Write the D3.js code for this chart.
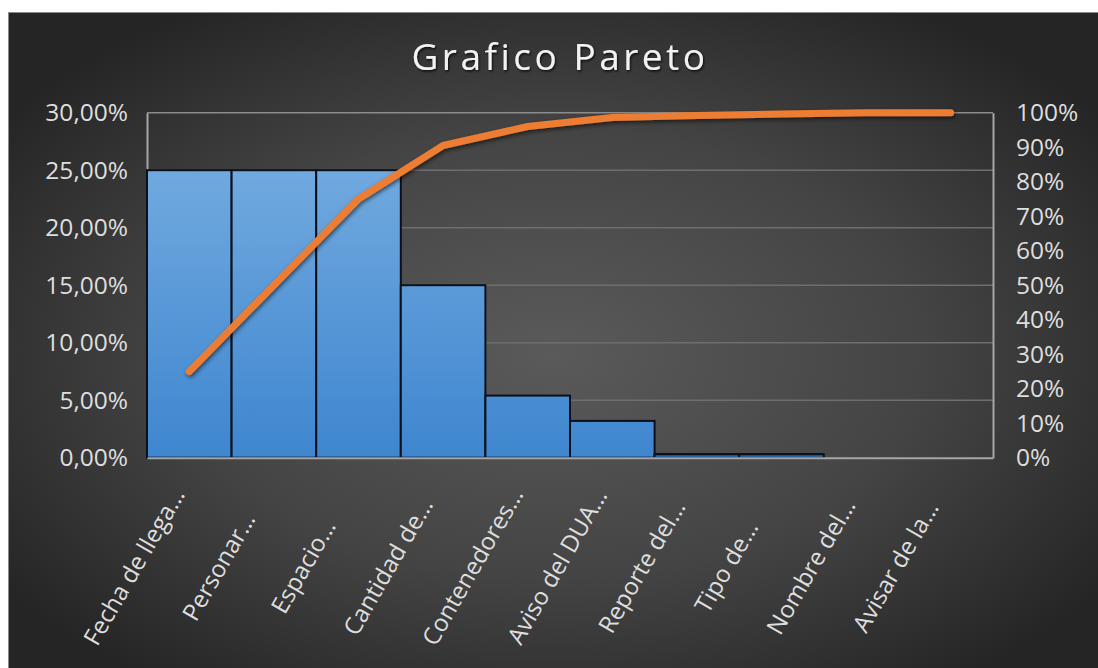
<!DOCTYPE html>
<html>
<head>
<meta charset="utf-8">
<script src="https://cdn.jsdelivr.net/npm/d3@7/dist/d3.min.js"></script>
<style>
  html, body { margin: 0; padding: 0; background: #ffffff; }
  svg { display: block; }
  text { font-family: "Open Sans", "Noto Sans", sans-serif; }
</style>
</head>
<body>
<svg id="chart" width="1098" height="668"></svg>
<script>
// ---- data ----
const categories = ["Fecha de llega…", "Personar…", "Espacio…", "Cantidad de…", "Contenedores…",
                    "Aviso del DUA…", "Reporte del…", "Tipo de…", "Nombre del…", "Avisar de la…"];
const percentValues = [25, 25, 25, 15, 5.4, 3.2, 0.3, 0.3, 0, 0];
const cumulativeValues = [25, 50, 75, 90.5, 96, 98.6, 99.2, 99.6, 100, 100];
const leftTicks = [0, 5, 10, 15, 20, 25, 30];
const rightTicks = [0, 10, 20, 30, 40, 50, 60, 70, 80, 90, 100];
const titleText = "Grafico Pareto";

// ---- layout ----
const W = 1098, H = 668;
const plot = { left: 147, right: 993, top: 112.7, bottom: 457.7 };

const svg = d3.select("#chart");
const defs = svg.append("defs");

const bg = defs.append("radialGradient").attr("id", "bgGrad")
  .attr("cx", "50%").attr("cy", "52%").attr("r", "62%");
bg.append("stop").attr("offset", "0%").attr("stop-color", "#5a5a5a");
bg.append("stop").attr("offset", "55%").attr("stop-color", "#444444");
bg.append("stop").attr("offset", "100%").attr("stop-color", "#252525");

const barGrad = defs.append("linearGradient").attr("id", "barGrad")
  .attr("gradientUnits", "userSpaceOnUse")
  .attr("x1", 0).attr("x2", 0).attr("y1", plot.top + 55).attr("y2", plot.bottom);
barGrad.append("stop").attr("offset", "0%").attr("stop-color", "#71a9df");
barGrad.append("stop").attr("offset", "100%").attr("stop-color", "#3e86cf");

const shadow = defs.append("filter").attr("id", "lineShadow")
  .attr("x", "-10%").attr("y", "-10%").attr("width", "120%").attr("height", "130%");
shadow.append("feDropShadow").attr("dx", 1).attr("dy", 2).attr("stdDeviation", 2)
  .attr("flood-color", "#000").attr("flood-opacity", 0.6);

const tshadow = defs.append("filter").attr("id", "textShadow")
  .attr("x", "-10%").attr("y", "-30%").attr("width", "120%").attr("height", "160%");
tshadow.append("feDropShadow").attr("dx", 1).attr("dy", 1.5).attr("stdDeviation", 1.2)
  .attr("flood-color", "#000").attr("flood-opacity", 0.8);

// background panel
svg.append("rect").attr("x", 8.5).attr("y", 12.5).attr("width", W - 8).attr("height", H - 12)
  .attr("fill", "url(#bgGrad)").attr("stroke", "#8a8a8a").attr("stroke-width", 1);

// ---- scales ----
const x = d3.scaleBand().domain(categories).range([plot.left, plot.right]).padding(0);
const yL = d3.scaleLinear().domain([0, 30]).range([plot.bottom, plot.top]);
const yR = d3.scaleLinear().domain([0, 100]).range([plot.bottom, plot.top]);

// gridlines
svg.append("g").selectAll("line").data(leftTicks.filter(d => d > 0)).join("line")
  .attr("x1", plot.left).attr("x2", plot.right)
  .attr("y1", d => yL(d)).attr("y2", d => yL(d))
  .attr("stroke", d => d === 30 ? "#8c8c8c" : "#6e6e6e").attr("stroke-width", 1.5);

// axes
const fmtLeft = d => d3.format(".2f")(d).replace(".", ",") + "%";
const fmtRight = d => d + "%";

const gL = svg.append("g").attr("transform", `translate(${plot.left},0)`)
  .call(d3.axisLeft(yL).tickValues(leftTicks).tickFormat(fmtLeft).tickSize(0).tickPadding(19));

// bars
svg.append("g").selectAll("rect").data(percentValues).join("rect")
  .attr("x", (d, i) => x(categories[i]))
  .attr("width", x.bandwidth())
  .attr("y", d => yL(d))
  .attr("height", d => yL(0) - yL(d))
  .attr("fill", "url(#barGrad)")
  .attr("stroke", d => d > 0 ? "#0b0f1a" : "none")
  .attr("stroke-width", 2);

const gR = svg.append("g").attr("transform", `translate(${plot.right},0)`)
  .call(d3.axisRight(yR).tickValues(rightTicks).tickFormat(fmtRight).tickSize(0).tickPadding(23));
const gB = svg.append("g").attr("transform", `translate(0,${plot.bottom})`)
  .call(d3.axisBottom(x).tickSize(0).tickFormat(""));

[gL, gR, gB].forEach(g => {
  g.select(".domain").attr("stroke", "#a6a6a6").attr("stroke-width", 2);
  g.selectAll("text").attr("fill", "#dedede").attr("font-size", 24.5)
    .attr("font-family", "'Open Sans', sans-serif");
});

// thin bars' top edges drawn above the baseline
svg.append("g").selectAll("line").data(percentValues.map((d, i) => ({ d, i })).filter(o => o.d > 0 && o.d < 1)).join("line")
  .attr("x1", o => x(categories[o.i])).attr("x2", o => x(categories[o.i]) + x.bandwidth())
  .attr("y1", o => yL(o.d)).attr("y2", o => yL(o.d))
  .attr("stroke", "#0b0f1a").attr("stroke-width", 2);

// category labels (rotated)
svg.append("g").selectAll("text").data(categories).join("text")
  .attr("transform", d => `translate(${x(d) + x.bandwidth() / 2 - 56},566) rotate(-60)`)
  .attr("text-anchor", "middle")
  .attr("dominant-baseline", "central")
  .attr("fill", "#dedede")
  .attr("font-size", 24)
  .text(d => d);

// cumulative line
const line = d3.line()
  .x((d, i) => x(categories[i]) + x.bandwidth() / 2)
  .y(d => yR(d));
svg.append("path").datum(cumulativeValues)
  .attr("d", line)
  .attr("fill", "none")
  .attr("stroke", "#ed7d31")
  .attr("stroke-width", 7)
  .attr("stroke-linejoin", "round")
  .attr("stroke-linecap", "round")
  .attr("filter", "url(#lineShadow)");

// title
svg.append("text")
  .attr("x", 560).attr("y", 70)
  .attr("text-anchor", "middle")
  .attr("fill", "#f2f2f2")
  .attr("font-size", 37)
  .attr("letter-spacing", "3.5px")
  .attr("filter", "url(#textShadow)")
  .text(titleText);
</script>
</body>
</html>
